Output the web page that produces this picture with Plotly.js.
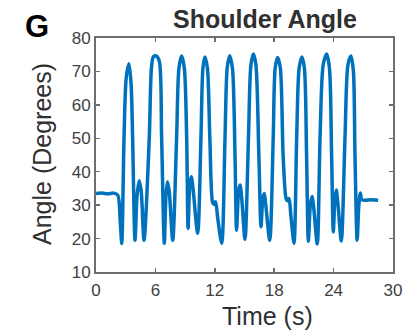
<!DOCTYPE html>
<html>
<head>
<meta charset="utf-8">
<script src="https://cdn.plot.ly/plotly-3.0.1.min.js"></script>
<style>
html,body{margin:0;padding:0;background:#fff;}
#chart{width:408px;height:333px;}
</style>
</head>
<body>
<div id="chart"></div>
<script>
// Time (s)
const time = [
  0, 0.6, 1.2, 1.8, 2.2,
  2.45, 2.6, 2.83, 3.05, 3.33, 3.55, 3.7, 3.94, 4.15, 4.37, 4.57, 4.85,
  5.38, 5.6, 5.8, 6.1, 6.4, 6.63, 6.9, 7.07, 7.22, 7.4, 7.75,
  8.14, 8.38, 8.65, 8.92, 9.16, 9.3, 9.47, 9.62, 9.8, 10.27,
  10.6, 10.8, 11.0, 11.25, 11.5, 11.78, 11.93, 12.08, 12.3, 12.7,
  13.03, 13.25, 13.5, 13.78, 14.04, 14.2, 14.4, 14.55, 14.72, 15.05,
  15.4, 15.65, 15.9, 16.15, 16.45, 16.67, 16.85, 17.0, 17.15, 17.55,
  17.9, 18.1, 18.35, 18.62, 18.9, 19.2, 19.35, 19.5, 19.68, 20.0,
  20.27, 20.52, 20.8, 21.05, 21.27, 21.45, 21.65, 21.82, 22.0, 22.35,
  22.63, 22.95, 23.3, 23.58, 23.8, 23.97, 24.12, 24.27, 24.45, 24.78,
  25.15, 25.45, 25.76, 26.0, 26.16, 26.38, 26.55, 26.7, 26.85, 27.2, 27.8, 28.5
];
// Shoulder angle (degrees)
const angle = [
  33.5, 33.6, 33.4, 33.6, 33.0,
  25, 18.5, 50, 68, 72.3, 66, 50, 19.5, 33, 37.3, 34, 19.5,
  50, 71, 74.4, 74.6, 73, 50, 18.6, 33, 37, 34, 19.5,
  50, 71, 74.6, 71, 50, 23, 36, 38.5, 35, 21.6,
  50, 71, 74.3, 71, 50, 30.8, 30.2, 31, 26, 18.6,
  50, 71, 74.7, 71, 45, 22.5, 34, 36, 32, 19.8,
  50, 72, 75.2, 72, 45, 23.5, 32, 33.5, 30, 19.5,
  50, 71, 74.2, 71, 45, 32, 31.3, 32, 27, 18.6,
  50, 71, 74.3, 71, 45, 19.2, 30, 32.6, 29, 18.4,
  50, 72, 75.2, 71, 45, 22, 31, 34.5, 30, 19.3,
  50, 72, 74.6, 70, 45, 19.5, 30, 33.6, 31.6, 31.5, 31.6, 31.5
];
const xTicks = [0, 6, 12, 18, 24, 30];
const yTicks = [10, 20, 30, 40, 50, 60, 70, 80];

const axisColor = '#6e6e6e';
const tickFont = {family: 'Liberation Sans, Arial, sans-serif', size: 17, color: '#404040'};

const trace = {
  x: time, y: angle, type: 'scatter', mode: 'lines',
  line: {color: '#0072BD', width: 3.5, shape: 'spline', smoothing: 0.8},
  hoverinfo: 'skip'
};

const layout = {
  width: 408, height: 333,
  margin: {l: 96, r: 15, t: 38, b: 61, pad: 0},
  paper_bgcolor: '#fff', plot_bgcolor: '#fff',
  showlegend: false,
  title: {
    text: 'Shoulder Angle',
    font: {family: 'Liberation Sans, Arial, sans-serif', size: 25, color: '#303030', weight: 'bold'},
    x: (265 - 96) / 297, xref: 'paper', xanchor: 'center',
    y: 1 - 19 / 333, yref: 'container', yanchor: 'middle'
  },
  xaxis: {
    range: [0, 30], tickvals: xTicks, ticktext: xTicks.map(String),
    ticks: 'inside', ticklen: 4, tickwidth: 1.5, tickcolor: axisColor,
    showline: true, linecolor: axisColor, linewidth: 2, mirror: 'ticks',
    showgrid: false, zeroline: false, tickfont: tickFont, ticklabelstandoff: 2,
    fixedrange: true
  },
  yaxis: {
    range: [10, 80], tickvals: yTicks, ticktext: yTicks.map(String),
    ticks: 'inside', ticklen: 4, tickwidth: 1.5, tickcolor: axisColor,
    showline: true, linecolor: axisColor, linewidth: 2, mirror: 'ticks',
    showgrid: false, zeroline: false, tickfont: tickFont,
    fixedrange: true
  },
  annotations: [
    {text: 'Time (s)', xref: 'paper', yref: 'paper',
     x: (267 - 96) / 297, y: -(316 - 272) / 234, xanchor: 'center', yanchor: 'middle',
     showarrow: false, font: {family: 'Liberation Sans, Arial, sans-serif', size: 25, color: '#303030'}},
    {text: 'Angle (Degrees)', xref: 'paper', yref: 'paper', textangle: -90,
     x: (42 - 96) / 297, y: (272 - 154) / 234, xanchor: 'center', yanchor: 'middle',
     showarrow: false, font: {family: 'Liberation Sans, Arial, sans-serif', size: 25, color: '#303030'}},
    {text: '<b>G</b>', xref: 'paper', yref: 'paper',
     x: (37 - 96) / 297, y: (272 - 27) / 234, xanchor: 'center', yanchor: 'middle',
     showarrow: false, font: {family: 'Liberation Sans, Arial, sans-serif', size: 31, color: '#000'}}
  ]
};

Plotly.newPlot('chart', [trace], layout, {staticPlot: true, displayModeBar: false});
</script>
</body>
</html>
